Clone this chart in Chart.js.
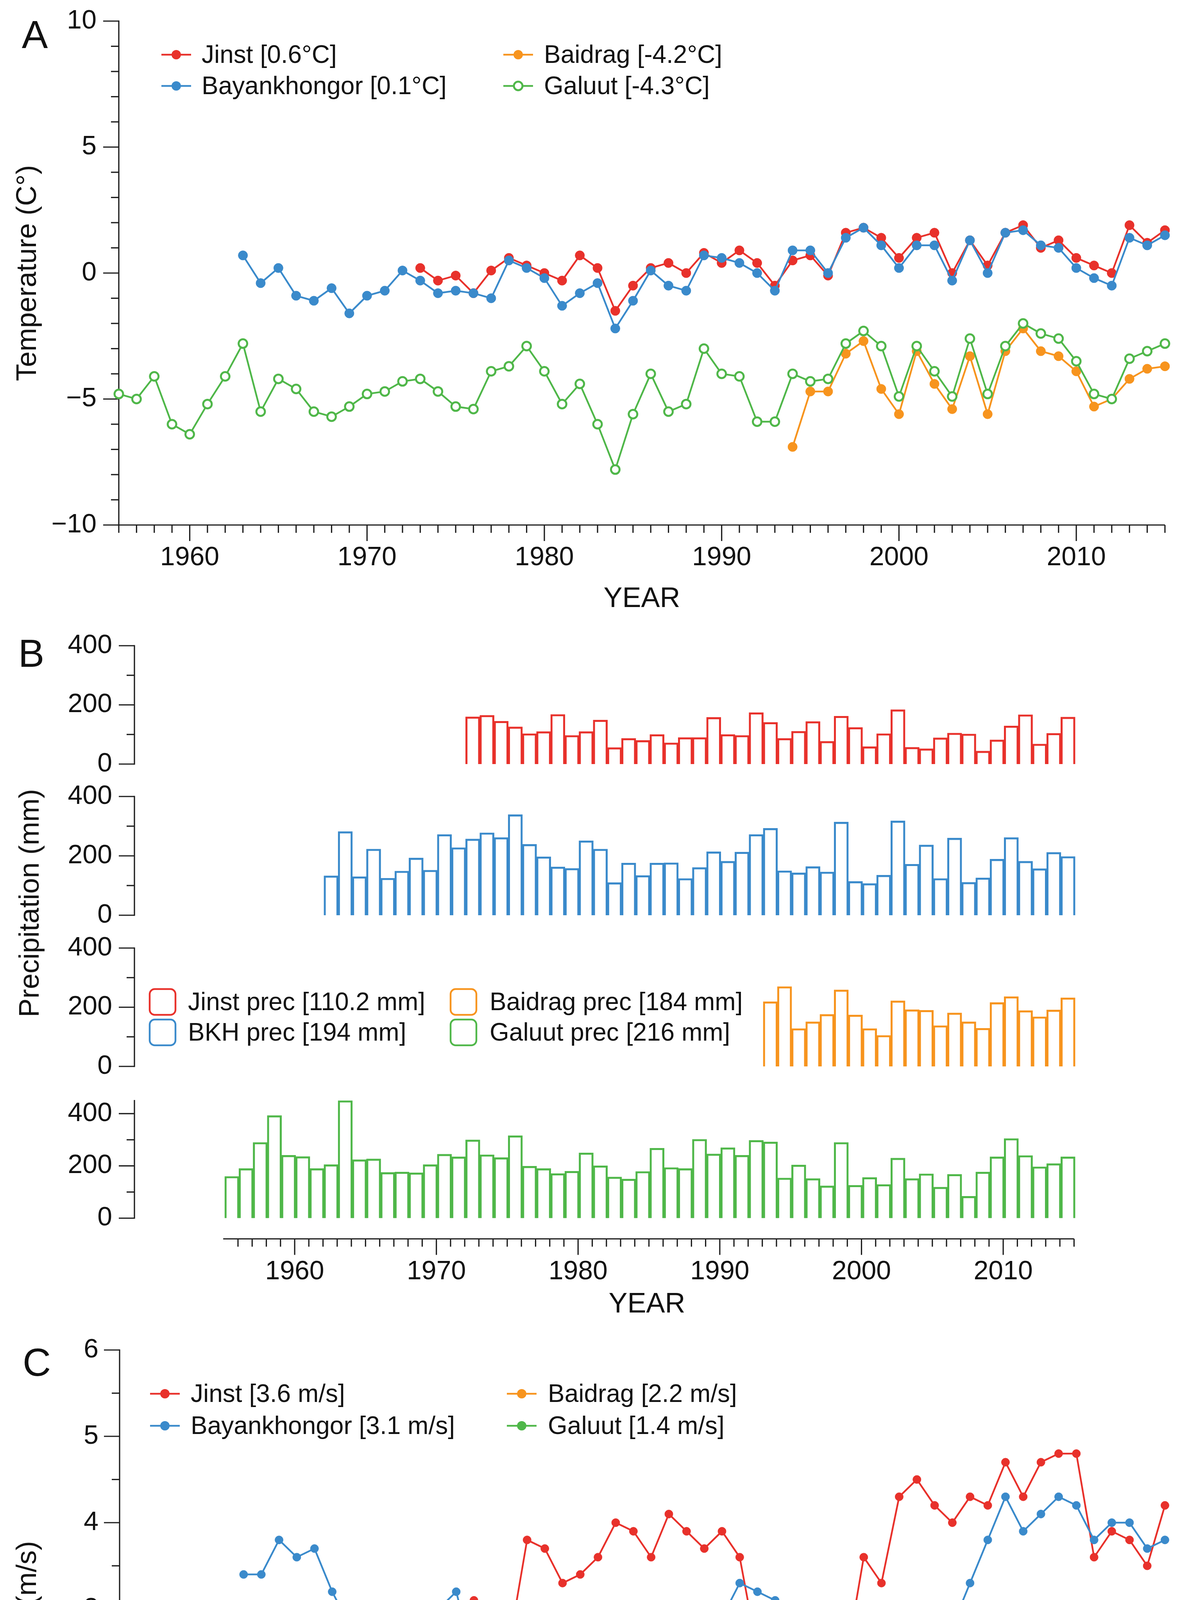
<!DOCTYPE html>
<html>
<head>
<meta charset="utf-8">
<script src="https://cdn.jsdelivr.net/npm/chart.js@4.4.1/dist/chart.umd.min.js"></script>
<style>
html,body{margin:0;padding:0;background:#ffffff;}
#page{position:relative;width:3040px;height:5011px;background:#ffffff;overflow:hidden;}
canvas{position:absolute;left:0;}
.lbl{position:absolute;font-family:"Liberation Sans",Arial,Helvetica,sans-serif;color:#111111;line-height:1;white-space:nowrap;}
</style>
</head>
<body>
<div id="page">
  <canvas id="cA"  width="3040" height="1590" style="top:0px;width:3040px;height:1590px"></canvas>
  <canvas id="cB1" width="3040" height="390"  style="top:1600px;width:3040px;height:390px"></canvas>
  <canvas id="cB2" width="3040" height="385"  style="top:1995px;width:3040px;height:385px"></canvas>
  <canvas id="cB3" width="3040" height="390"  style="top:2385px;width:3040px;height:390px"></canvas>
  <canvas id="cB4" width="3040" height="625"  style="top:2775px;width:3040px;height:625px"></canvas>
  <canvas id="cC"  width="3040" height="1611" style="top:3400px;width:3040px;height:1611px"></canvas>
  <div class="lbl" style="left:89px;top:88px;font-size:100px;transform:translate(-50%,-50%)">A</div>
  <div class="lbl" style="left:80px;top:1672px;font-size:100px;transform:translate(-50%,-50%)">B</div>
  <div class="lbl" style="left:94px;top:3487px;font-size:100px;transform:translate(-50%,-50%)">C</div>
  <div class="lbl" style="left:74px;top:2312px;font-size:72px;transform:translate(-50%,-50%) rotate(-90deg)">Precipitation (mm)</div>
</div>
<script>
// ---------------- DATA ----------------
const decadeTicks = [1960, 1970, 1980, 1990, 2000, 2010];
const tempTicks = [-10, -5, 0, 5, 10];
const precTicks = [0, 200, 400];
const windTicks = [0, 1, 2, 3, 4, 5, 6];

// start years of each station record
const jinstStart = 1973;
const bkhStart = 1963;
const baidragStart = 1994;
const galuutStart = 1956;

const tempLegend = ['Jinst [0.6°C]', 'Bayankhongor [0.1°C]', 'Baidrag [-4.2°C]', 'Galuut [-4.3°C]'];
const precLegend = ['Jinst prec [110.2 mm]', 'BKH prec [194 mm]', 'Baidrag prec [184 mm]', 'Galuut prec [216 mm]'];
const windLegend = ['Jinst [3.6 m/s]', 'Bayankhongor [3.1 m/s]', 'Baidrag [2.2 m/s]', 'Galuut [1.4 m/s]'];

// Temperature (°C)
const jinstTemp = [
  0.2, -0.3, -0.1, -0.8, 0.1, 0.6, 0.3, 0.0, -0.3, 0.7,
  0.2, -1.5, -0.5, 0.2, 0.4, 0.0, 0.8, 0.4, 0.9, 0.4,
  -0.5, 0.5, 0.7, -0.1, 1.6, 1.8, 1.4, 0.6, 1.4, 1.6,
  0.0, 1.3, 0.3, 1.6, 1.9, 1.0, 1.3, 0.6, 0.3, 0.0,
  1.9, 1.2, 1.7
];
const bkhTemp = [
  0.7, -0.4, 0.2, -0.9, -1.1, -0.6, -1.6, -0.9, -0.7, 0.1,
  -0.3, -0.8, -0.7, -0.8, -1.0, 0.5, 0.2, -0.2, -1.3, -0.8,
  -0.4, -2.2, -1.1, 0.1, -0.5, -0.7, 0.7, 0.6, 0.4, 0.0,
  -0.7, 0.9, 0.9, 0.0, 1.4, 1.8, 1.1, 0.2, 1.1, 1.1,
  -0.3, 1.3, 0.0, 1.6, 1.7, 1.1, 1.0, 0.2, -0.2, -0.5,
  1.4, 1.1, 1.5
];
const baidragTemp = [
  -6.9, -4.7, -4.7, -3.2, -2.7, -4.6, -5.6, -3.1, -4.4, -5.4,
  -3.3, -5.6, -3.1, -2.2, -3.1, -3.3, -3.9, -5.3, -5.0, -4.2,
  -3.8, -3.7
];
const galuutTemp = [
  -4.8, -5.0, -4.1, -6.0, -6.4, -5.2, -4.1, -2.8, -5.5, -4.2,
  -4.6, -5.5, -5.7, -5.3, -4.8, -4.7, -4.3, -4.2, -4.7, -5.3,
  -5.4, -3.9, -3.7, -2.9, -3.9, -5.2, -4.4, -6.0, -7.8, -5.6,
  -4.0, -5.5, -5.2, -3.0, -4.0, -4.1, -5.9, -5.9, -4.0, -4.3,
  -4.2, -2.8, -2.3, -2.9, -4.9, -2.9, -3.9, -4.9, -2.6, -4.8,
  -2.9, -2.0, -2.4, -2.6, -3.5, -4.8, -5.0, -3.4, -3.1, -2.8
];

// Precipitation (mm)
const jinstPrec = [
  160, 165, 145, 126, 103, 110, 168, 97, 110, 149,
  56, 87, 80, 100, 72, 90, 90, 158, 100, 97,
  174, 141, 87, 111, 144, 77, 162, 124, 59, 103,
  184, 57, 52, 89, 105, 102, 44, 82, 129, 167,
  68, 104, 159
];
const bkhPrec = [
  133, 282, 130, 223, 125, 149, 193, 152, 272, 228,
  257, 278, 262, 339, 239, 197, 163, 158, 251, 223,
  110, 176, 134, 176, 177, 124, 161, 214, 182, 213,
  272, 293, 150, 143, 164, 146, 314, 114, 107, 135,
  318, 172, 237, 124, 260, 111, 126, 189, 262, 182,
  157, 212, 198
];
const baidragPrec = [
  219, 270, 128, 151, 176, 259, 174, 128, 105, 222,
  192, 190, 138, 181, 151, 129, 216, 236, 189, 168,
  191, 232
];
const galuutPrec = [
  160, 190, 290, 393, 241, 236, 190, 205, 450, 224,
  227, 175, 177, 174, 205, 245, 235, 300, 243, 232,
  316, 199, 190, 171, 180, 250, 201, 158, 150, 179,
  268, 194, 190, 302, 246, 270, 241, 298, 292, 154,
  204, 152, 124, 290, 126, 156, 129, 230, 152, 170,
  119, 168, 84, 177, 235, 305, 240, 197, 209, 235
];

// Wind (m/s)
const jinstWind = [
  2.6, 2.7, 2.9, 3.1, 2.2, 2.6, 3.8, 3.7, 3.3, 3.4,
  3.6, 4.0, 3.9, 3.6, 4.1, 3.9, 3.7, 3.9, 3.6, 2.5,
  2.5, 2.1, 2.6, 2.8, 2.4, 3.6, 3.3, 4.3, 4.5, 4.2,
  4.0, 4.3, 4.2, 4.7, 4.3, 4.7, 4.8, 4.8, 3.6, 3.9,
  3.8, 3.5, 4.2
];
const bkhWind = [
  3.4, 3.4, 3.8, 3.6, 3.7, 3.2, 2.8, 2.4, 2.2, 2.9,
  2.8, 3.0, 3.2, 2.4, 2.7, 2.9, 2.7, 2.5, 2.6, 2.8,
  2.9, 2.8, 2.3, 3.0, 2.7, 2.6, 2.7, 2.9, 3.3, 3.2,
  3.1, 2.7, 3.0, 2.9, 2.9, 3.0, 3.0, 3.0, 2.8, 2.8,
  2.8, 3.3, 3.8, 4.3, 3.9, 4.1, 4.3, 4.2, 3.8, 4.0,
  4.0, 3.7, 3.8
];
const baidragWind = [
  1.9, 2.0, 2.3, 2.1, 2.1, 2.0, 1.9, 2.0, 2.0, 2.1,
  2.3, 2.0, 2.3, 2.4, 2.6, 2.7, 2.5, 2.1, 2.4, 2.9,
  2.7, 2.9
];
const galuutWind = [
  1.7, 1.9, 2.1, 1.8, 1.7, 1.5, 1.2, 1.3, 1.0, 1.1,
  1.4, 1.4, 1.8, 2.1, 1.8, 1.5, 1.3, 1.3, 1.7, 1.3,
  1.5, 1.4, 1.4, 1.3, 1.2, 1.1, 1.5, 1.4, 1.5, 1.3,
  1.5, 1.4, 1.1, 1.1, 1.0, 1.1, 0.9, 1.1, 1.0, 1.0,
  1.0, 0.9, 1.0, 0.7, 0.7, 0.8, 1.0, 0.9, 1.3, 1.2,
  1.5, 2.1, 2.3, 2.5, 2.4, 1.8, 2.1, 2.3, 2.0, 2.0
];

// ---------------- STYLE ----------------
const FONT = '"Liberation Sans", Arial, Helvetica, sans-serif';
const TEXT = '#111111';
const AXIS = '#1c1c1c';
const RED = '#E8312B';
const BLUE = '#3A8ACB';
const ORANGE = '#F7941E';
const GREEN = '#4FB749';
const TICK_FONT = 68;
const TITLE_FONT = 72;
const LEGEND_FONT = 64;

Chart.defaults.font.family = FONT;
Chart.defaults.color = TEXT;
Chart.defaults.animation = false;

const toPoints = (start, vals) => vals.map((v, i) => ({ x: start + i, y: v }));
// each precipitation bar sits just left of its year tick
const toBars = (start, vals) => vals.map((v, i) => ({ x: start + i - 0.43, y: v }));
const fmt = v => String(v).replace('-', '\u2212');
const noPad = s => { s.paddingTop = 0; s.paddingBottom = 0; s.paddingLeft = 0; s.paddingRight = 0; };

// ---------------- PLUGINS ----------------
function axesPlugin(cfg) {
  return {
    id: 'manualAxes',
    beforeDatasetsDraw(chart) {
      const ctx = chart.ctx, ca = chart.chartArea;
      ctx.save();
      ctx.strokeStyle = AXIS;
      ctx.lineWidth = 3.2;
      ctx.lineCap = 'butt';
      const seg = (x1, y1, x2, y2) => { ctx.beginPath(); ctx.moveTo(x1, y1); ctx.lineTo(x2, y2); ctx.stroke(); };
      const isMajor = (v, m) => Math.abs(v / m - Math.round(v / m)) < 1e-6;
      if (cfg.y) {
        const s = chart.scales.y, x0 = ca.left, c = cfg.y;
        seg(x0, s.getPixelForValue(c.lineFrom) + 1.6, x0, s.getPixelForValue(c.lineTo) - 1.6);
        for (let i = 0; ; i++) {
          const v = c.tickFrom + i * c.minor;
          if (v > c.tickTo + 1e-9) break;
          const p = s.getPixelForValue(v);
          seg(x0 - (isMajor(v, c.major) ? 40 : 20), p, x0, p);
        }
      }
      if (cfg.x) {
        const s = chart.scales.x, c = cfg.x, y0 = ca.bottom + (c.offset || 0);
        seg(s.getPixelForValue(c.lineFrom) - 1.6, y0, s.getPixelForValue(c.lineTo), y0);
        for (let i = 0; ; i++) {
          const v = c.tickFrom + i * c.minor;
          if (v > c.tickTo + 1e-9) break;
          const p = s.getPixelForValue(v);
          seg(p, y0, p, y0 + (isMajor(v, c.major) ? 41 : 20));
        }
      }
      ctx.restore();
    }
  };
}

function legendPlugin(items, kind) {
  return {
    id: 'panelLegend',
    afterDraw(chart) {
      const ctx = chart.ctx;
      ctx.save();
      ctx.font = LEGEND_FONT + 'px ' + FONT;
      ctx.textBaseline = 'middle';
      ctx.textAlign = 'left';
      items.forEach(it => {
        if (kind === 'box') {
          const w = 66, h = 66, r = 13, x = it.x, y = it.y - h / 2;
          ctx.beginPath();
          ctx.moveTo(x + r, y);
          ctx.arcTo(x + w, y, x + w, y + h, r);
          ctx.arcTo(x + w, y + h, x, y + h, r);
          ctx.arcTo(x, y + h, x, y, r);
          ctx.arcTo(x, y, x + w, y, r);
          ctx.closePath();
          ctx.lineWidth = 4.5;
          ctx.strokeStyle = it.color;
          ctx.stroke();
          ctx.fillStyle = TEXT;
          ctx.fillText(it.label, it.textX, it.y + 3);
        } else {
          ctx.strokeStyle = it.color;
          ctx.lineWidth = 4.5;
          ctx.beginPath();
          ctx.moveTo(it.x, it.y);
          ctx.lineTo(it.x + 76, it.y);
          ctx.stroke();
          ctx.beginPath();
          ctx.arc(it.x + 38, it.y, it.open ? 11 : 12, 0, Math.PI * 2);
          if (it.open) {
            ctx.fillStyle = '#ffffff';
            ctx.fill();
            ctx.lineWidth = 5;
            ctx.stroke();
          } else {
            ctx.fillStyle = it.color;
            ctx.fill();
          }
          ctx.fillStyle = TEXT;
          ctx.fillText(it.label, it.textX, it.y + 3);
        }
      });
      ctx.restore();
    }
  };
}

// ---------------- COMMON SCALE BUILDERS ----------------
function xScale(min, max, opts) {
  return {
    type: 'linear', min: min, max: max,
    display: opts.display,
    afterBuildTicks: s => { s.ticks = decadeTicks.map(v => ({ value: v })); },
    afterFit: s => { if (opts.height) s.height = opts.height; noPad(s); },
    grid: { display: false, drawTicks: false },
    border: { display: false },
    ticks: { autoSkip: false, maxRotation: 0, minRotation: 0, padding: opts.labelPad || 0,
             font: { size: TICK_FONT }, color: TEXT, callback: v => String(v) },
    title: { display: !!opts.title, text: 'YEAR', color: TEXT, font: { size: TITLE_FONT },
             padding: { top: 0, bottom: 0 } }
  };
}
function yScale(min, max, ticks, opts) {
  return {
    type: 'linear', min: min, max: max,
    afterBuildTicks: s => { s.ticks = ticks.map(v => ({ value: v })); },
    afterFit: s => { s.width = opts.width; noPad(s); },
    grid: { display: false, drawTicks: false },
    border: { display: false },
    ticks: { padding: opts.labelPad, font: { size: TICK_FONT }, color: TEXT, callback: v => fmt(v) },
    title: { display: !!opts.title, text: opts.title || '', color: TEXT, font: { size: TITLE_FONT },
             padding: { top: opts.titlePad || 0, bottom: 0 } }
  };
}
function lineSet(label, start, vals, color, radius, open) {
  return {
    label: label,
    data: toPoints(start, vals),
    borderColor: color,
    borderWidth: 4.5,
    backgroundColor: color,
    pointRadius: radius,
    pointHoverRadius: radius,
    pointBackgroundColor: open ? '#ffffff' : color,
    pointBorderColor: color,
    pointBorderWidth: open ? 5 : 1,
    tension: 0,
    clip: false,
    fill: false
  };
}

// ---------------- PANEL A : TEMPERATURE ----------------
new Chart(document.getElementById('cA'), {
  type: 'line',
  data: {
    datasets: [
      lineSet(tempLegend[3], galuutStart, galuutTemp, GREEN, 11, true),
      lineSet(tempLegend[1], bkhStart, bkhTemp, BLUE, 12, false),
      lineSet(tempLegend[2], baidragStart, baidragTemp, ORANGE, 12, false),
      lineSet(tempLegend[0], jinstStart, jinstTemp, RED, 12, false)
    ]
  },
  options: {
    responsive: false, devicePixelRatio: 1, events: [],
    layout: { padding: { top: 54, left: 0, right: 59, bottom: 13 } },
    plugins: { legend: { display: false }, tooltip: { enabled: false } },
    scales: {
      x: xScale(1956, 2015, { display: true, height: 233, labelPad: 43, title: true }),
      y: yScale(-10, 10, tempTicks, { width: 304, labelPad: 57, title: 'Temperature (C°)', titlePad: 29 })
    }
  },
  plugins: [
    axesPlugin({
      y: { lineFrom: -10, lineTo: 10, tickFrom: -10, tickTo: 10, minor: 1, major: 5 },
      x: { lineFrom: 1956, lineTo: 2015, tickFrom: 1956, tickTo: 2015, minor: 1, major: 10, offset: 0 }
    }),
    legendPlugin([
      { label: tempLegend[0], color: RED, x: 413, y: 140, textX: 516 },
      { label: tempLegend[1], color: BLUE, x: 413, y: 220, textX: 516 },
      { label: tempLegend[2], color: ORANGE, x: 1288, y: 140, textX: 1392 },
      { label: tempLegend[3], color: GREEN, x: 1288, y: 220, textX: 1392, open: true }
    ], 'line')
  ]
});

// ---------------- PANEL B : PRECIPITATION ----------------
const B_XMIN = 1954.72, B_XMAX = 2015;
function precChart(id, start, vals, color, yMax, pad, withAxis, extraPlugins) {
  const axisCfg = { y: { lineFrom: 0, lineTo: yMax, tickFrom: 0, tickTo: 400, minor: 100, major: 200 } };
  if (withAxis) axisCfg.x = { lineFrom: 1955, lineTo: 2015, tickFrom: 1956, tickTo: 2015, minor: 1, major: 10, offset: 53 };
  return new Chart(document.getElementById(id), {
    type: 'bar',
    data: {
      datasets: [{
        data: toBars(start, vals),
        borderColor: color,
        backgroundColor: 'rgba(255,255,255,0)',
        borderWidth: 4.5,
        borderSkipped: 'start',
        barThickness: 37,
        clip: false
      }]
    },
    options: {
      responsive: false, devicePixelRatio: 1, events: [],
      layout: { padding: { top: pad.top, left: 0, right: 73, bottom: pad.bottom } },
      plugins: { legend: { display: false }, tooltip: { enabled: false } },
      scales: {
        x: xScale(B_XMIN, B_XMAX, withAxis ? { display: true, height: 265, labelPad: 97, title: true } : { display: false }),
        y: yScale(0, yMax, precTicks, { width: 344, labelPad: 57 })
      }
    },
    plugins: [axesPlugin(axisCfg)].concat(extraPlugins || [])
  });
}
precChart('cB1', jinstStart, jinstPrec, RED, 400, { top: 53, bottom: 34 }, false);
precChart('cB2', bkhStart, bkhPrec, BLUE, 400, { top: 44, bottom: 37 }, false);
precChart('cB3', baidragStart, baidragPrec, ORANGE, 400, { top: 42, bottom: 45 }, false, [
  legendPlugin([
    { label: precLegend[0], color: RED, x: 383, y: 180, textX: 481 },
    { label: precLegend[1], color: BLUE, x: 383, y: 258, textX: 481 },
    { label: precLegend[2], color: ORANGE, x: 1153, y: 180, textX: 1253 },
    { label: precLegend[3], color: GREEN, x: 1153, y: 258, textX: 1253 }
  ], 'box')
]);
precChart('cB4', galuutStart, galuutPrec, GREEN, 450, { top: 42.5, bottom: 16.5 }, true);

// ---------------- PANEL C : WIND ----------------
new Chart(document.getElementById('cC'), {
  type: 'line',
  data: {
    datasets: [
      lineSet(windLegend[1], bkhStart, bkhWind, BLUE, 10.5, false),
      lineSet(windLegend[0], jinstStart, jinstWind, RED, 10.5, false),
      lineSet(windLegend[2], baidragStart, baidragWind, ORANGE, 10.5, false),
      lineSet(windLegend[3], galuutStart, galuutWind, GREEN, 10.5, false)
    ]
  },
  options: {
    responsive: false, devicePixelRatio: 1, events: [],
    layout: { padding: { top: 56, left: 0, right: 59, bottom: 16 } },
    plugins: { legend: { display: false }, tooltip: { enabled: false } },
    scales: {
      x: xScale(1956, 2015, { display: true, height: 213, labelPad: 47, title: true }),
      y: yScale(0, 6, windTicks, { width: 306, labelPad: 54, title: 'Wind (m/s)', titlePad: 29 })
    }
  },
  plugins: [
    axesPlugin({
      y: { lineFrom: 0, lineTo: 6, tickFrom: 0, tickTo: 6, minor: 0.5, major: 1 },
      x: { lineFrom: 1956, lineTo: 2015, tickFrom: 1956, tickTo: 2015, minor: 1, major: 10, offset: 0 }
    }),
    legendPlugin([
      { label: windLegend[0], color: RED, x: 384, y: 168, textX: 488 },
      { label: windLegend[1], color: BLUE, x: 384, y: 250, textX: 488 },
      { label: windLegend[2], color: ORANGE, x: 1297, y: 168, textX: 1402 },
      { label: windLegend[3], color: GREEN, x: 1297, y: 250, textX: 1402 }
    ], 'line')
  ]
});
</script>
</body>
</html>
